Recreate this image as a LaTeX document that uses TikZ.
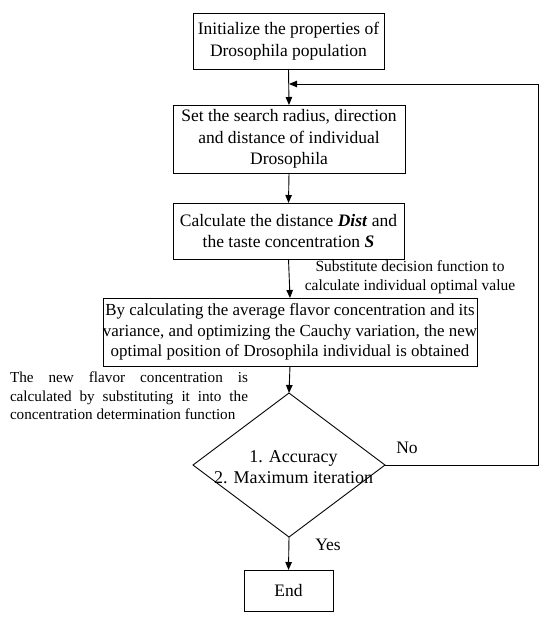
\documentclass[tikz,border=0pt]{standalone}
\usepackage{fontspec}
\setmainfont{Liberation Serif}
\usetikzlibrary{shapes.geometric,arrows.meta}
\begin{document}
\begin{tikzpicture}[x=1pt,y=-1pt,
  every node/.style={inner sep=0pt,outer sep=0pt},
  box/.style={draw,line width=0.9pt,align=center,font=\fontsize{17.5}{21.5}\selectfont},
  conn/.style={line width=0.9pt,-{Triangle[length=8pt,width=6.5pt]}},
  plain/.style={line width=0.9pt}]
\useasboundingbox (0,0) rectangle (550,621);
\node[box,minimum width=191pt,minimum height=56pt] (b1) at (288.5,41) {Initialize the properties of\\Drosophila population};
\node[box,minimum width=232pt,minimum height=68pt] (b2) at (289,139) {Set the search radius, direction\\and distance of individual\\Drosophila};
\node[box,minimum width=231pt,minimum height=56pt] (b3) at (288.5,231) {Calculate the distance \textbf{\textit{Dist}} and\\the taste concentration \textbf{\textit{S}}};
\node[box,minimum width=356pt,minimum height=68pt,font=\fontsize{16.9}{20.5}\selectfont] (b4) at (290,332) {By calculating the average flavor concentration and its\\variance, and optimizing the Cauchy variation, the new\\optimal position of Drosophila individual is obtained};
\node[draw,line width=0.9pt,diamond,minimum width=192pt,minimum height=144pt] (dia) at (289,465) {};
\node[align=center,font=\fontsize{18}{21}\selectfont] (diat) at (293.5,467) {1. Accuracy\\2. Maximum iteration};
\node[box,minimum width=89pt,minimum height=41pt] (end) at (288.5,590.5) {End};
\coordinate (fbr) at (538,465);
\coordinate (fbt) at (538,84);
\coordinate (fbj) at (289,84);
\draw[conn] (b1.south) -- (b2.north);
\draw[conn] (b2.south) -- (b3.north);
\draw[conn] (b3.south) -- (b4.north);
\draw[conn] (b4.south) -- (dia.north);
\draw[conn] (dia.south) -- (end.north);
\draw[plain] (dia.east) -- (fbr) -- (fbt);
\draw[conn] (fbt) -- (fbj);
\node[align=center,font=\fontsize{15.5}{19}\selectfont] (ann1) at (410,277) {Substitute decision function to\\calculate individual optimal value};
\node[align=left,anchor=north west,font=\fontsize{15.2}{18.5}\selectfont] (ann2) at (10,372) {\makebox[238pt][s]{The new flavor concentration is}\\\makebox[238pt][s]{calculated by substituting it into the}\\concentration determination function};
\node[font=\fontsize{17.5}{21}\selectfont] (no) at (407,448) {No};
\node[font=\fontsize{17.5}{21}\selectfont] (yes) at (328,545) {Yes};
\end{tikzpicture}
\end{document}
